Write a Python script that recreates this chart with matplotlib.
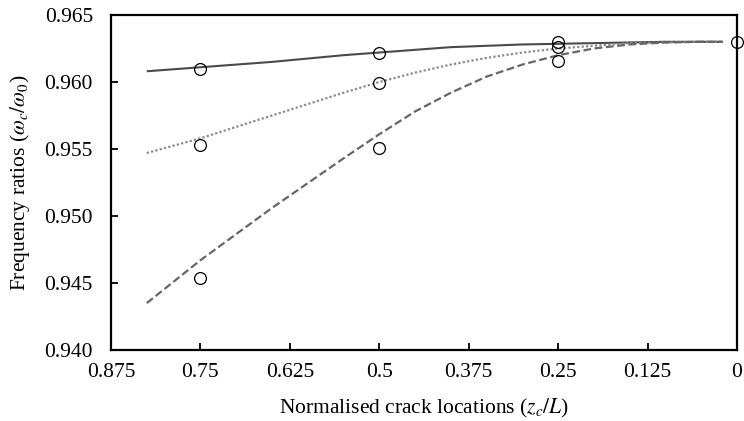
import matplotlib
matplotlib.use("Agg")
import matplotlib.pyplot as plt

plt.rcParams["font.family"] = ["Liberation Serif", "DejaVu Serif"]
plt.rcParams["mathtext.fontset"] = "stix"

# Crack location samples for the analytical curves
curve_x = [0.825, 0.75, 0.65, 0.55, 0.5, 0.45, 0.4, 0.35, 0.3, 0.25,
           0.2, 0.15, 0.1, 0.05, 0.02]
solid_y = [0.9608, 0.9611, 0.9615, 0.9620, 0.9622, 0.9624, 0.9626, 0.9627,
           0.9628, 0.96285, 0.9629, 0.96295, 0.9630, 0.9630, 0.9630]
dotted_y = [0.9547, 0.9558, 0.9575, 0.9592, 0.9600, 0.9607, 0.9613, 0.9618,
            0.9622, 0.9625, 0.9627, 0.9629, 0.96295, 0.9630, 0.9630]
dashed_y = [0.9435, 0.9467, 0.9506, 0.9543, 0.9561, 0.9578, 0.9592, 0.9604,
            0.9613, 0.9620, 0.9625, 0.9628, 0.96295, 0.9630, 0.9630]

# Measured frequency ratios
meas_x = [0.75, 0.75, 0.75, 0.5, 0.5, 0.5, 0.25, 0.25, 0.25, 0.0]
meas_y = [0.9610, 0.9553, 0.9454, 0.9622, 0.9599, 0.9551,
          0.9630, 0.9626, 0.9616, 0.9630]

x_ticks = [0.875, 0.75, 0.625, 0.5, 0.375, 0.25, 0.125, 0.0]
x_tick_labels = ["0.875", "0.75", "0.625", "0.5", "0.375", "0.25", "0.125", "0"]
y_ticks = [0.940, 0.945, 0.950, 0.955, 0.960, 0.965]
y_tick_labels = ["0.940", "0.945", "0.950", "0.955", "0.960", "0.965"]

fig = plt.figure(figsize=(7.44, 4.21), dpi=100)
ax = fig.add_axes([0.1492, 0.1686, 0.8414, 0.7958])

ax.plot(curve_x, solid_y, color="#4a4a4a", lw=1.5, solid_capstyle="butt")
ax.plot(curve_x, dotted_y, color="#8a8a8a", lw=1.6, dashes=(1.0, 1.0))
ax.plot(curve_x, dashed_y, color="#666666", lw=1.6, dashes=(3.5, 1.6))
ax.plot(meas_x, meas_y, linestyle="none", marker="o", markersize=8.5,
        markerfacecolor="none", markeredgecolor="black", markeredgewidth=0.9,
        clip_on=False, zorder=5)

ax.set_xlim(0.875, 0.0)
ax.set_ylim(0.940, 0.965)
ax.set_xticks(x_ticks)
ax.set_xticklabels(x_tick_labels)
ax.set_yticks(y_ticks)
ax.set_yticklabels(y_tick_labels)

ax.tick_params(direction="in", length=5, width=1.3, labelsize=15.5,
               top=False, right=False)
ax.tick_params(axis="y", pad=13)
ax.tick_params(axis="x", pad=9)
for s in ax.spines.values():
    s.set_linewidth(1.6)

ax.set_xlabel("Normalised crack locations ($z_c/L$)", fontsize=15.5, labelpad=11)
ax.set_ylabel("Frequency ratios ($\\omega_c/\\omega_0$)", fontsize=15.5, labelpad=9)

fig.savefig("out.png", dpi=100)
